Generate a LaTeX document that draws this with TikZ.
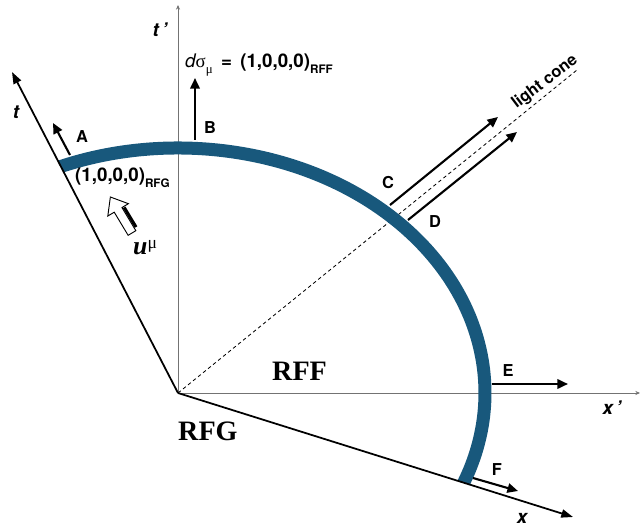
\documentclass[tikz,border=0pt]{standalone}
\usepackage{fontspec}
\setmainfont{TeX Gyre Heros}
\newfontfamily\tmsfont{Liberation Serif}
\usepackage{tikz}
\usetikzlibrary{arrows.meta,calc}
\definecolor{fluidblue}{HTML}{18587C}
\definecolor{axisgray}{gray}{0.45}
\newcommand{\lowsub}[2][9]{\raisebox{-0.5ex}{\fontsize{#1}{#1}\selectfont #2}}
\tikzset{
  axthin/.style   = {draw=axisgray, line width=0.7pt,
                     -{Stealth[length=4pt,width=3.5pt]}},
  axthick/.style  = {draw=black, line width=1.5pt,
                     -{Triangle[length=10pt,width=7pt]}},
  lcone/.style    = {draw=black, line width=0.7pt, dash pattern=on 3pt off 2.5pt},
  surf/.style     = {draw=fluidblue, line width=0.39cm},
  normarr/.style  = {draw=black, line width=1.8pt,
                     -{Triangle[length=9pt,width=8pt]}},
  ptlab/.style    = {font=\fontsize{14}{16}\selectfont\bfseries, inner sep=0pt},
  crdlab/.style   = {font=\fontsize{16}{18}\selectfont\bfseries, inner sep=0pt},
  axlab/.style    = {font=\fontsize{16}{18}\selectfont\bfseries\itshape, inner sep=0pt},
  framelab/.style = {font=\fontsize{24}{26}\selectfont\tmsfont\bfseries, inner sep=0pt},
}

\begin{document}
\begin{tikzpicture}[x=0.03cm,y=0.03cm]
  \useasboundingbox (-178,-134) rectangle (463,393);

  \coordinate (O)     at (0,0);
  \coordinate (tpend) at (0,388);
  \coordinate (xpend) at (462,0);
  \coordinate (tend)  at (-166,321);
  \coordinate (xend)  at (395,-124);
  \coordinate (lcend) at (399,323);

  \draw[axthin] (O) -- (tpend);
  \draw[axthin] (O) -- (xpend);
  \draw[lcone] (O) -- (lcend);

  \begin{scope}
    \clip (O) -- ($(O)!2!(tend)$) -- (800,800) -- ($(O)!2!(xend)$) -- cycle;
    \draw[surf] (125:307 and 245) arc[start angle=125, end angle=-35,
                                       x radius=307, y radius=245];
  \end{scope}

  \draw[axthick] (O) -- (tend);
  \draw[axthick] (O) -- (xend);

  \coordinate (a0) at (-108,238);  \coordinate (a1) at (-125,270);
  \coordinate (b0) at (17,253);    \coordinate (b1) at (17,315);
  \coordinate (c0) at (212,188);   \coordinate (c1) at (320,276);
  \coordinate (d0) at (230,173);   \coordinate (d1) at (339,261);
  \coordinate (e0) at (314,9);     \coordinate (e1) at (390,9);
  \coordinate (f0) at (295,-85);   \coordinate (f1) at (340,-98);

  \draw[normarr] (a0) -- (a1);
  \draw[normarr] (b0) -- (b1);
  \draw[normarr] (c0) -- (c1);
  \draw[normarr] (d0) -- (d1);
  \draw[normarr] (e0) -- (e1);
  \draw[normarr] (f0) -- (f1);

  \node[ptlab] (la) at (-96,256) {A};
  \node[ptlab] (lb) at (32,265)  {B};
  \node[ptlab] (lc) at (210,210) {C};
  \node[ptlab] (ld) at (257,171) {D};
  \node[ptlab] (le) at (330,22)  {E};
  \node[ptlab] (lf) at (319,-77) {F};

  \node[axlab] (ltp) at (-18,363) {t\,'};
  \node[axlab] (lt)  at (-162,281) {t};
  \node[axlab] (lxp) at (434,-15) {x\,'};
  \node[axlab] (lx)  at (344,-125) {x};

  \node[crdlab, anchor=base west] (dsig) at (7,325)
    {{\mdseries\itshape d}{\tmsfont\mdseries σ}\lowsub[11]{\tmsfont\mdseries μ}
     \,=\, (1,0,0,0)\lowsub[10]{RFF}};
  \node[crdlab, anchor=base west] (rfgvec) at (-103,211)
    {(1,0,0,0)\lowsub[10]{RFG}};

  \node[font=\fontsize{14}{16}\selectfont\bfseries, rotate=37] (lclab)
    at (367,311) {light cone};

  \begin{scope}[shift={(-46,160)}, rotate=121]
    \draw[line width=2.6pt] (3,-6.5) -- (26,-6.5);
    \draw[fill=white, line width=0.8pt]
      (0,-4.5) -- (27,-4.5) -- (27,-12) -- (42,0) -- (27,12) -- (27,4.5) -- (0,4.5) -- cycle;
  \end{scope}
  \node[anchor=base west, inner sep=0pt] (umu) at (-45,138)
    {{\tmsfont\bfseries\itshape\fontsize{22}{22}\selectfont u}\raisebox{1.0ex}{\tmsfont\fontsize{15}{15}\selectfont μ}};

  \node[framelab, anchor=base west] (rff) at (94,13)  {RFF};
  \node[framelab, anchor=base west] (rfg) at (0,-47)  {RFG};
\end{tikzpicture}
\end{document}
